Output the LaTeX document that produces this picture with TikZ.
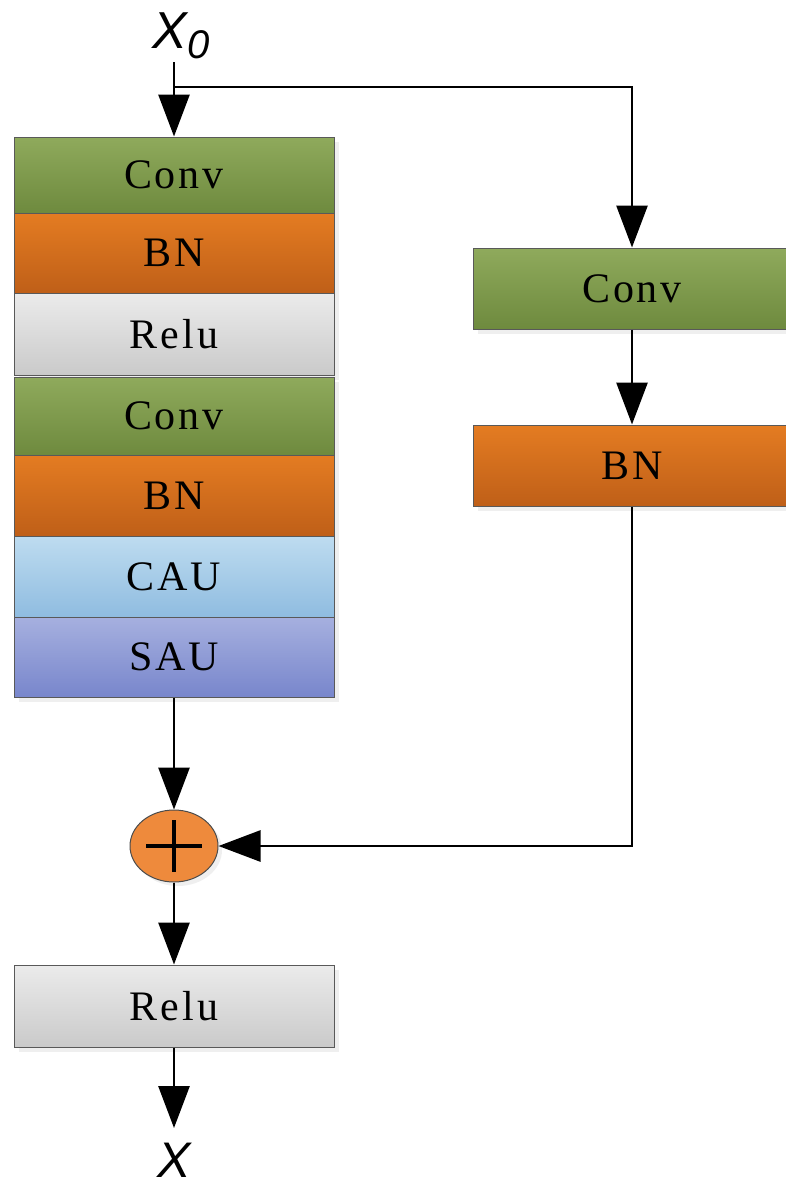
\documentclass[tikz,border=0pt]{standalone}
\usepackage{fontspec}
\setmainfont{Liberation Serif}
\newfontfamily\lsans{Liberation Sans}
\usetikzlibrary{arrows.meta,shadows,shapes.geometric}
\definecolor{gtop}{HTML}{8FAA5C}
\definecolor{gbot}{HTML}{6E8A3E}
\definecolor{otop}{HTML}{E47C22}
\definecolor{obot}{HTML}{BF5F18}
\definecolor{rtop}{HTML}{EBEBEB}
\definecolor{rbot}{HTML}{CACACA}
\definecolor{ctop}{HTML}{BEDCF0}
\definecolor{cbot}{HTML}{8FBCE0}
\definecolor{stop}{HTML}{A6B0DF}
\definecolor{sbot}{HTML}{7886CC}
\definecolor{plusc}{HTML}{EE8A3C}
\tikzset{
  blk/.style={draw=black!65, line width=1pt, minimum width=320pt, inner sep=0pt,
    font=\fontsize{42}{42}\selectfont\addfontfeature{LetterSpace=7},
    drop shadow={opacity=0.12, shadow xshift=5pt, shadow yshift=-5pt}},
  convb/.style={blk, top color=gtop, bottom color=gbot},
  bnb/.style={blk, top color=otop, bottom color=obot},
  relub/.style={blk, top color=rtop, bottom color=rbot},
  caub/.style={blk, top color=ctop, bottom color=cbot},
  saub/.style={blk, top color=stop, bottom color=sbot},
  arr/.style={line width=2.8pt, -{Triangle[length=42pt,width=31pt]}}
}
\begin{document}
\begin{tikzpicture}[x=1pt,y=-1pt]
\useasboundingbox[fill=white] (0,0) rectangle (786,1187);
% left stack
\node[convb, minimum height=76pt] (conv1) at (174,175) {Conv};
\node[bnb, minimum height=80pt] (bn1) at (174,253) {BN};
\node[relub, minimum height=82pt] (relu1) at (174,334) {Relu};
\node[convb, minimum height=78pt] (conv2) at (174,416) {Conv};
\node[bnb, minimum height=81pt] (bn2) at (174,495.5) {BN};
\node[caub, minimum height=81pt] (cau) at (174,576.5) {CAU};
\node[saub, minimum height=80pt] (sau) at (174,657) {SAU};
% right branch
\node[convb, minimum height=81pt, minimum width=318pt] (convr) at (632,288.5) {Conv};
\node[bnb, minimum height=81pt, minimum width=318pt] (bnr) at (632,465.5) {BN};
% sum
\node[draw=black!70, line width=1pt, ellipse, fill=plusc, minimum width=88pt, minimum height=72pt, inner sep=0pt,
  drop shadow={opacity=0.12, shadow xshift=4pt, shadow yshift=-4pt}] (plus) at (174,846) {};
\draw[line width=4pt] ([xshift=-28pt]plus.center) -- ([xshift=28pt]plus.center);
\draw[line width=4pt] ([yshift=-26pt]plus.center) -- ([yshift=26pt]plus.center);
% output relu
\node[relub, minimum height=82pt] (relu2) at (174,1006) {Relu};
% labels
\node[font=\lsans\itshape\fontsize{52}{52}\selectfont, inner sep=0pt] (x0) at (181,36) {X\raisebox{-10pt}{\fontsize{40}{40}\selectfont 0}};
\node[font=\lsans\itshape\fontsize{50}{50}\selectfont, inner sep=0pt] (xout) at (174,1160) {X};
% coordinates
\coordinate (top) at (174,62);
\coordinate (branch) at (174,87);
\coordinate (xend) at (174,1128);
% connectors
\draw[arr] (top) -- (conv1.north);
\draw[arr] (branch) -| (convr.north);
\draw[arr] (convr.south) -- (bnr.north);
\draw[arr] (bnr.south) |- (plus.east);
\draw[arr] (sau.south) -- (plus.north);
\draw[arr] (plus.south) -- (relu2.north);
\draw[arr] (relu2.south) -- (xend);
\end{tikzpicture}
\end{document}
